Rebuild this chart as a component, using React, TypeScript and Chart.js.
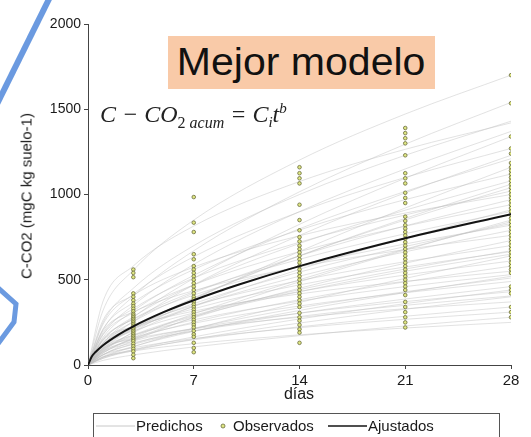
import React, { useEffect, useRef } from "react";
import { Chart, registerables } from "chart.js";

Chart.register(...registerables);

// ---- Data ----
const xTicks = [0, 7, 14, 21, 28];
const yTicks = [0, 500, 1000, 1500, 2000];

// Observed accumulated C-CO2 (mgC kg suelo-1) per sampling day
const obsDays = [3, 7, 14, 21, 28];
const obsDay3 = [560, 540, 515, 420, 400, 380, 360, 345, 330, 315, 300, 290, 280, 270, 260, 250, 240, 230, 220, 210, 200, 190, 180, 170, 160, 150, 140, 125, 110, 95, 80, 60, 40];
const obsDay7 = [985, 835, 780, 650, 620, 580, 560, 540, 520, 500, 480, 460, 440, 420, 400, 385, 370, 355, 340, 325, 310, 295, 280, 265, 250, 235, 220, 200, 180, 165, 130, 100, 75];
const obsDay14 = [1160, 1125, 1095, 1065, 940, 850, 790, 750, 725, 700, 680, 660, 640, 620, 600, 580, 560, 540, 520, 500, 480, 460, 440, 420, 400, 380, 360, 340, 305, 280, 260, 235, 210, 190, 130];
const obsDay21 = [1390, 1360, 1330, 1300, 1230, 1125, 1095, 1065, 1010, 980, 950, 870, 845, 820, 800, 780, 760, 740, 720, 700, 680, 660, 640, 620, 600, 580, 560, 540, 520, 500, 480, 460, 440, 410, 370, 340, 310, 280, 250, 220];
const obsDay28 = [1700, 1535, 1340, 1270, 1240, 1185, 1160, 1140, 1120, 1100, 1080, 1060, 1040, 1020, 1000, 980, 960, 940, 920, 900, 880, 860, 840, 820, 800, 780, 760, 740, 720, 700, 680, 660, 640, 620, 600, 580, 560, 540, 460, 440, 420, 340, 310, 280];
const obsByDay = [obsDay3, obsDay7, obsDay14, obsDay21, obsDay28];

// Predicted individual curves (values at predDays)
const predDays = [0, 1, 3, 7, 14, 21, 28];
const predCurves = [
  [0, 321, 556, 850, 1202, 1472, 1700],
  [0, 208, 403, 670, 1016, 1295, 1540],
  [0, 375, 581, 815, 1076, 1265, 1420],
  [0, 130, 280, 508, 825, 1096, 1340],
  [0, 240, 415, 635, 898, 1100, 1270],
  [0, 163, 317, 526, 799, 1018, 1210],
  [0, 81, 194, 383, 666, 921, 1160],
  [0, 212, 366, 560, 792, 970, 1120],
  [0, 146, 283, 470, 713, 908, 1080],
  [0, 101, 217, 394, 641, 851, 1040],
  [0, 264, 409, 574, 758, 891, 1000],
  [0, 131, 254, 422, 640, 816, 970],
  [0, 178, 307, 470, 665, 814, 940],
  [0, 88, 190, 345, 561, 744, 910],
  [0, 119, 231, 383, 581, 740, 880],
  [0, 60, 142, 281, 488, 675, 850],
  [0, 155, 268, 410, 580, 710, 820],
  [0, 107, 207, 344, 521, 664, 790],
  [0, 201, 311, 436, 576, 677, 760],
  [0, 71, 153, 277, 450, 597, 730],
  [0, 132, 229, 350, 495, 606, 700],
  [0, 90, 176, 291, 442, 563, 670],
  [0, 45, 107, 211, 367, 508, 640],
  [0, 115, 199, 305, 431, 528, 610],
  [0, 78, 152, 252, 383, 488, 580],
  [0, 145, 225, 316, 417, 490, 550],
  [0, 50, 109, 197, 320, 425, 520],
  [0, 93, 160, 245, 346, 424, 490],
  [0, 62, 121, 200, 304, 387, 460],
  [0, 81, 141, 215, 304, 372, 430],
  [0, 39, 84, 152, 246, 327, 400],
  [0, 98, 151, 212, 280, 330, 370],
  [0, 46, 89, 148, 224, 286, 340],
  [0, 59, 101, 155, 219, 268, 310],
  [0, 27, 59, 106, 172, 229, 280],
  [0, 47, 82, 125, 177, 217, 250],
  [0, 250, 450, 700, 1000, 1230, 1430],
  [0, 180, 350, 590, 900, 1150, 1370],
  [0, 120, 255, 470, 760, 1010, 1230],
  [0, 190, 330, 510, 720, 880, 1020],
  [0, 95, 210, 390, 640, 860, 1060],
  [0, 150, 270, 430, 620, 770, 900],
  [0, 110, 215, 360, 545, 695, 830],
  [0, 70, 160, 300, 500, 680, 840],
  [0, 125, 215, 330, 470, 575, 665],
  [0, 85, 170, 285, 430, 550, 650],
  [0, 100, 175, 265, 375, 460, 530],
  [0, 60, 125, 215, 335, 430, 510],
  [0, 75, 130, 200, 285, 350, 405],
  [0, 40, 90, 165, 270, 360, 440],
];

// Fitted (Ajustados) curve
const fitDays = [0, 0.25, 0.5, 1, 2, 3, 5, 7, 10, 14, 21, 28];
const fitValues = [0, 50, 76, 116, 177, 227, 310, 380, 472, 580, 743, 885];

const FONT = "'Liberation Sans', Arial, sans-serif";

export default function App() {
  const ref = useRef<HTMLCanvasElement | null>(null);

  useEffect(() => {
    document.body.style.margin = "0";
    const canvas = ref.current;
    if (!canvas) return;

    const datasets: any[] = [];
    datasets.push({
      label: "Ajustados",
      data: fitDays.map((d, i) => ({ x: d, y: fitValues[i] })),
      borderColor: "#141414",
      borderWidth: 2,
      pointRadius: 0,
      cubicInterpolationMode: "monotone",
      order: 0,
    });
    const obsPts: any[] = [];
    obsByDay.forEach((arr, k) => arr.forEach((v) => obsPts.push({ x: obsDays[k], y: v })));
    datasets.push({
      label: "Observados",
      data: obsPts,
      showLine: false,
      pointRadius: 1.8,
      pointBorderWidth: 0.8,
      pointBorderColor: "#6a6b3c",
      pointBackgroundColor: "#dfe783",
      order: 1,
    });
    predCurves.forEach((row, j) => {
      datasets.push({
        label: "Predichos" + j,
        data: predDays.map((d, i) => ({ x: d, y: row[i] })),
        borderColor: "rgba(190,190,190,0.45)",
        borderWidth: 1,
        pointRadius: 0,
        cubicInterpolationMode: "monotone",
        order: 2,
      });
    });

    const chart = new Chart(canvas, {
      type: "line",
      data: { datasets },
      options: {
        animation: false,
        responsive: false,
        devicePixelRatio: 1,
        events: [],
        layout: { padding: { left: 0, right: 20, top: 24, bottom: 0 } },
        plugins: { legend: { display: false }, tooltip: { enabled: false } },
        scales: {
          x: {
            type: "linear",
            min: 0,
            max: 28,
            afterBuildTicks: (s: any) => {
              s.ticks = xTicks.map((v) => ({ value: v }));
            },
            afterFit: (s: any) => {
              s.height = 72;
            },
            grid: { drawOnChartArea: false, drawTicks: true, tickLength: 4, color: "#444" },
            border: { display: true, color: "#444", width: 1 },
            ticks: { color: "#1a1a1a", padding: 3, maxRotation: 0, font: { family: FONT, size: 15 }, callback: (v: any) => String(v) },
          },
          y: {
            type: "linear",
            min: 0,
            max: 2000,
            afterBuildTicks: (s: any) => {
              s.ticks = yTicks.map((v) => ({ value: v }));
            },
            afterFit: (s: any) => {
              s.width = 88;
            },
            grid: { drawOnChartArea: false, drawTicks: true, tickLength: 4, color: "#444" },
            border: { display: true, color: "#444", width: 1 },
            ticks: { color: "#1a1a1a", padding: 3, font: { family: FONT, size: 14 }, callback: (v: any) => String(v) },
          },
        },
      },
    });
    return () => chart.destroy();
  }, []);

  const sub: React.CSSProperties = { fontSize: 16, position: "relative", top: 6 };

  return (
    <div style={{ position: "absolute", left: 0, top: 0, width: 531, height: 437, overflow: "hidden", background: "#fff", fontFamily: FONT }}>
      <svg width={531} height={437} style={{ position: "absolute", left: 0, top: 0 }}>
        <line x1={50} y1={-3} x2={-3} y2={104} stroke="#6b9ae0" strokeWidth={6} />
        <polyline points="-3,287 16,304 14,322 -3,345" fill="none" stroke="#6b9ae0" strokeWidth={5} />
      </svg>
      <canvas ref={ref} width={531} height={437} style={{ position: "absolute", left: 0, top: 0, width: 531, height: 437 }} />
      {/* Y axis title */}
      <div
        style={{
          position: "absolute",
          left: 26,
          top: 196,
          transform: "translate(-50%, -50%) rotate(-90deg)",
          whiteSpace: "nowrap",
          fontSize: 15,
          color: "#1a1a1a",
        }}
      >
        C-CO2 (mgC kg suelo-1)
      </div>
      {/* X axis title */}
      <div style={{ position: "absolute", left: 299, top: 394, transform: "translate(-50%, -50%)", fontSize: 16, color: "#1a1a1a" }}>días</div>
      {/* Title box */}
      <div
        style={{
          position: "absolute",
          left: 168,
          top: 36,
          width: 267,
          height: 53,
          background: "#f9caa8",
          display: "flex",
          alignItems: "center",
          justifyContent: "center",
        }}
      >
        <span style={{ fontSize: 38, color: "#111", display: "inline-block", transform: "scaleX(1.08)", whiteSpace: "nowrap" }}>Mejor modelo</span>
      </div>
      {/* Formula */}
      <div
        style={{
          position: "absolute",
          left: 100,
          top: 100,
          fontFamily: "'Liberation Serif', 'DejaVu Serif', serif",
          fontStyle: "italic",
          fontSize: 24,
          color: "#222",
          whiteSpace: "nowrap",
          lineHeight: "28px",
        }}
      >
        C − CO<span style={{ ...sub, fontStyle: "normal" }}>2</span>
        <span style={sub}> acum</span> = C<span style={{ fontSize: 15, position: "relative", top: 5 }}>i</span>t
        <span style={{ fontSize: 15, position: "relative", top: -9 }}>b</span>
      </div>
      {/* Legend */}
      <div
        style={{
          position: "absolute",
          left: 93,
          top: 413,
          width: 407,
          height: 34,
          border: "1px solid #555",
          boxSizing: "border-box",
          fontSize: 15,
          color: "#1a1a1a",
        }}
      >
        <svg width={407} height={30} style={{ position: "absolute", left: 0, top: 0 }}>
          <line x1={2} y1={12} x2={41} y2={12} stroke="#c8c8c8" strokeWidth={1} />
          <circle cx={129} cy={12} r={2} fill="#dfe783" stroke="#6a6b3c" strokeWidth={0.8} />
          <line x1={234} y1={12} x2={273} y2={12} stroke="#141414" strokeWidth={1.5} />
        </svg>
        <span style={{ position: "absolute", left: 42, top: 3 }}>Predichos</span>
        <span style={{ position: "absolute", left: 139, top: 3 }}>Observados</span>
        <span style={{ position: "absolute", left: 274, top: 3 }}>Ajustados</span>
      </div>
    </div>
  );
}
